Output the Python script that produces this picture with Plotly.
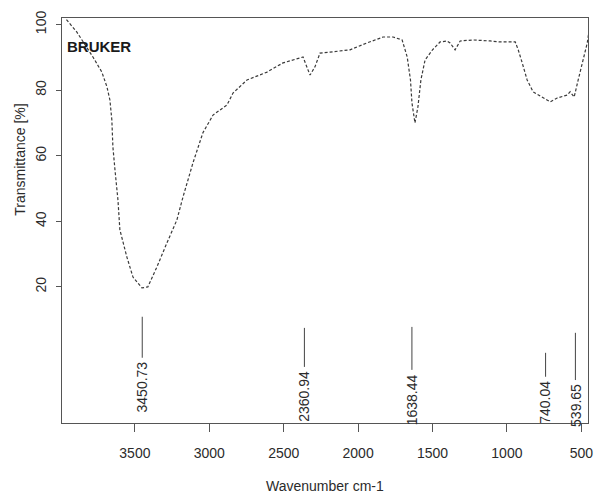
import plotly.graph_objects as go

# ---- data ----
wavenumber = [3960, 3890, 3782, 3722, 3688, 3668, 3655, 3648, 3634, 3621, 3614, 3601,
              3554, 3513, 3453, 3413, 3352, 3285, 3218, 3177, 3110, 3043, 2975, 2881,
              2841, 2747, 2612, 2505, 2370, 2337, 2323, 2290, 2256, 2189, 2054, 1940,
              1832, 1765, 1704, 1670, 1648, 1638, 1618, 1598, 1578, 1550, 1500, 1449,
              1402, 1382, 1348, 1314, 1227, 1113, 1045, 944, 924, 897, 864, 824, 756,
              709, 662, 595, 575, 548, 521, 487, 460, 447]
transmittance = [101.5, 97.7, 90.1, 85.5, 81.0, 77.0, 70.9, 62.7, 55.7, 49.6, 46.5, 37.4,
                 29.1, 23.0, 19.7, 20.0, 26.1, 33.4, 40.4, 47.4, 57.8, 67.0, 72.4, 75.5,
                 79.1, 83.1, 85.5, 88.3, 90.1, 86.2, 84.6, 87.1, 91.3, 91.6, 92.3, 94.4,
                 96.2, 96.2, 95.3, 90.1, 83.1, 76.1, 70.0, 74.9, 83.1, 89.2, 92.3, 94.7,
                 95.0, 94.4, 92.3, 95.0, 95.3, 95.0, 94.7, 94.7, 92.3, 88.3, 83.1, 79.5, 77.6,
                 76.4, 77.6, 78.5, 79.5, 77.9, 83.1, 89.2, 94.4, 98.4]

peak_values = [3450.73, 2360.94, 1638.44, 740.04, 539.65]
peak_labels = ["3450.73", "2360.94", "1638.44", "740.04", "539.65"]

x_tick_values = [3500, 3000, 2500, 2000, 1500, 1000, 500]
y_tick_values = [20, 40, 60, 80, 100]

# ---- layout helpers (positions of peak marker lines, in axis units) ----
marker_top = [10.9, 7.5, 7.8, -0.1, 6.0]
marker_bottom = [-1.6, -4.4, -5.3, -7.4, -8.4]

FONT = "Liberation Sans, Arial, sans-serif"
INK = "#2b2b2b"

fig = go.Figure()
fig.add_trace(go.Scatter(
    x=wavenumber, y=transmittance, mode="lines",
    line=dict(color="#3a3a3a", width=1.2, dash="3px,2px"),
    hoverinfo="skip", showlegend=False,
))

shapes = []
annotations = []
for pv, lab, t0, t1 in zip(peak_values, peak_labels, marker_top, marker_bottom):
    shapes.append(dict(type="line", xref="x", yref="y", x0=pv, x1=pv, y0=t0, y1=t1,
                       line=dict(color="#444", width=1)))
    annotations.append(dict(x=pv, y=t1, xref="x", yref="y", text=lab, showarrow=False,
                            textangle=-90, xanchor="center", yanchor="top", yshift=-2,
                            font=dict(family=FONT, size=14, color=INK)))

annotations.append(dict(x=0.005, y=93.2, xref="paper", yref="y", text="<b>BRUKER</b>",
                        showarrow=False, xanchor="left", yanchor="middle",
                        font=dict(family=FONT, size=15, color="#1a1a1a")))
annotations.append(dict(x=-0.08, y=0.65, xref="paper", yref="paper",
                        text="Transmittance [%]", showarrow=False, textangle=-90,
                        xanchor="center", yanchor="middle",
                        font=dict(family=FONT, size=14, color=INK)))
annotations.append(dict(x=0.5, y=-0.155, xref="paper", yref="paper",
                        text="Wavenumber cm-1", showarrow=False,
                        xanchor="center", yanchor="middle",
                        font=dict(family=FONT, size=14, color=INK)))

# the page body adds an 8px offset, so the figure is 8px smaller and margins shifted
fig.update_layout(
    width=596, height=488,
    margin=dict(l=54, r=16, t=10, b=73),
    paper_bgcolor="white", plot_bgcolor="white",
    shapes=shapes, annotations=annotations,
    xaxis=dict(
        range=[3990, 455], tickvals=x_tick_values,
        ticktext=[str(v) for v in x_tick_values], automargin=False,
        showgrid=False, zeroline=False, showline=True, mirror=True,
        linecolor="#555", linewidth=1, ticks="outside", ticklen=8,
        tickcolor="#555", ticklabelstandoff=9,
        tickfont=dict(family=FONT, size=14, color=INK),
    ),
    yaxis=dict(
        range=[-21.5, 102], tickvals=y_tick_values, automargin=False,
        ticktext=[str(v) for v in y_tick_values], tickangle=-90,
        showgrid=False, zeroline=False, showline=True, mirror=True,
        linecolor="#555", linewidth=1, ticks="outside", ticklen=5,
        tickcolor="#555", ticklabelstandoff=4,
        tickfont=dict(family=FONT, size=14, color=INK),
    ),
)

fig.write_html("out.html")
